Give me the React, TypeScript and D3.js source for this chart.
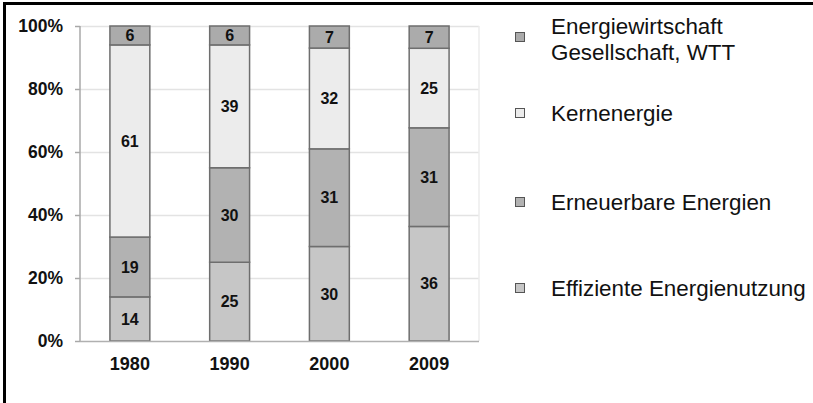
import React, { useEffect, useRef } from "react";
import * as d3 from "d3";

const years = ["1980", "1990", "2000", "2009"];
const effiziente = [14, 25, 30, 36];
const erneuerbare = [19, 30, 31, 31];
const kernenergie = [61, 39, 32, 25];
const energiewirtschaft = [6, 6, 7, 7];
const yTicks = [0, 0.2, 0.4, 0.6, 0.8, 1];

const seriesNames = [
  "Effiziente Energienutzung",
  "Erneuerbare Energien",
  "Kernenergie",
  "Energiewirtschaft Gesellschaft, WTT"
];
const seriesColors = ["#c6c6c6", "#b2b2b2", "#ececec", "#ababab"];

function App() {
  const chartRef = useRef<SVGSVGElement>(null);

  useEffect(() => {
    const width = 813;
    const height = 403;
    const left = 80;
    const right = 479;
    const top = 26;
    const bottom = 341;
    const font = "'Liberation Sans', Arial, sans-serif";

    const svg = d3.select(chartRef.current);
    svg.selectAll("*").remove();

    const values = [effiziente, erneuerbare, kernenergie, energiewirtschaft];
    const rows = years.map((year, i) => {
      const total = d3.sum(values, v => v[i]);
      const row: any = { year };
      values.forEach((v, k) => (row["s" + k] = v[i] / total));
      row.raw = values.map(v => v[i]);
      return row;
    });

    const keys = values.map((_, k) => "s" + k);
    const stack = d3.stack().keys(keys)(rows);

    const x = d3.scaleBand().domain(years).range([left, right]).paddingInner(0.6).paddingOuter(0.3);
    const y = d3.scaleLinear().domain([0, 1]).range([bottom, top]);

    svg.attr("width", width).attr("height", height);

    // frame lines on top and left
    svg.append("rect").attr("x", 0).attr("y", 0).attr("width", width).attr("height", height).attr("fill", "#fff");
    svg.append("line").attr("x1", 3).attr("x2", width).attr("y1", 3.5).attr("y2", 3.5)
      .attr("stroke", "#000").attr("stroke-width", 3);
    svg.append("line").attr("x1", 4.5).attr("x2", 4.5).attr("y1", 2).attr("y2", height)
      .attr("stroke", "#000").attr("stroke-width", 3);

    // gridlines
    svg.append("g")
      .selectAll("line")
      .data(yTicks.slice(1))
      .join("line")
      .attr("x1", left)
      .attr("x2", right)
      .attr("y1", d => Math.round(y(d)) + 0.5)
      .attr("y2", d => Math.round(y(d)) + 0.5)
      .attr("stroke", "#e3e3e3")
      .attr("stroke-width", 1.5);
    svg.append("line").attr("x1", right).attr("x2", right).attr("y1", top).attr("y2", bottom)
      .attr("stroke", "#ededed").attr("stroke-width", 1.5);

    // y axis
    const yAxis = svg.append("g");
    yAxis.append("line").attr("x1", left).attr("x2", left).attr("y1", top).attr("y2", bottom)
      .attr("stroke", "#a8a8a8").attr("stroke-width", 1.5);
    yAxis.selectAll("line.tick")
      .data(yTicks)
      .join("line")
      .attr("class", "tick")
      .attr("x1", left - 5)
      .attr("x2", left)
      .attr("y1", d => Math.round(y(d)) + 0.5)
      .attr("y2", d => Math.round(y(d)) + 0.5)
      .attr("stroke", "#a8a8a8")
      .attr("stroke-width", 1.5);
    yAxis.selectAll("text")
      .data(yTicks)
      .join("text")
      .attr("x", 63)
      .attr("y", d => y(d))
      .attr("dy", "0.35em")
      .attr("text-anchor", "end")
      .attr("font-family", font)
      .attr("font-weight", "bold")
      .attr("font-size", 17.5)
      .attr("fill", "#111")
      .text(d => d3.format(".0%")(d));

    // bars
    svg.append("g")
      .selectAll("g")
      .data(stack)
      .join("g")
      .attr("fill", (_, k) => seriesColors[k])
      .selectAll("rect")
      .data(d => d)
      .join("rect")
      .attr("x", d => x((d.data as any).year)!)
      .attr("width", x.bandwidth())
      .attr("y", d => y(d[1]))
      .attr("height", d => y(d[0]) - y(d[1]))
      .attr("stroke", "#6e6e6e")
      .attr("stroke-width", 1.5);

    // x axis baseline
    svg.append("line").attr("x1", left).attr("x2", right).attr("y1", bottom + 0.5).attr("y2", bottom + 0.5)
      .attr("stroke", "#b0b0b0").attr("stroke-width", 1.5);

    // value labels
    svg.append("g")
      .selectAll("g")
      .data(stack)
      .join("g")
      .selectAll("text")
      .data((s, k) => s.map(d => ({ d, k })))
      .join("text")
      .attr("x", ({ d }) => x((d.data as any).year)! + x.bandwidth() / 2)
      .attr("y", ({ d }) => (y(d[0]) + y(d[1])) / 2)
      .attr("dy", "0.36em")
      .attr("text-anchor", "middle")
      .attr("font-family", font)
      .attr("font-weight", "bold")
      .attr("font-size", 16)
      .attr("fill", "#111")
      .text(({ d, k }) => (d.data as any).raw[k]);

    // x labels
    svg.append("g")
      .selectAll("text")
      .data(years)
      .join("text")
      .attr("x", d => x(d)! + x.bandwidth() / 2)
      .attr("y", 370)
      .attr("text-anchor", "middle")
      .attr("font-family", font)
      .attr("font-weight", "bold")
      .attr("font-size", 18)
      .attr("fill", "#111")
      .text(d => d);

    // legend, top entry first
    const legendY = [37, 113, 202, 288];
    const legend = svg.append("g")
      .selectAll("g")
      .data(seriesNames.map((name, k) => ({ name, k })).reverse())
      .join("g")
      .attr("transform", (_, i) => `translate(515,${legendY[i]})`);
    legend.append("rect")
      .attr("x", 0.5)
      .attr("y", -4.5)
      .attr("width", 9)
      .attr("height", 9)
      .attr("fill", d => seriesColors[d.k])
      .attr("stroke", "#555")
      .attr("stroke-width", 1);
    legend.append("text")
      .attr("x", 36)
      .attr("font-family", font)
      .attr("font-size", 22.4)
      .attr("fill", "#111")
      .call(text =>
        text.each(function (d) {
          const lines = d.k === 3 ? ["Energiewirtschaft", "Gesellschaft, WTT"] : [d.name];
          d3.select(this)
            .selectAll("tspan")
            .data(lines)
            .join("tspan")
            .attr("x", 36)
            .attr("y", (_, j) => (lines.length > 1 ? -11 + j * 25.5 : 0))
            .attr("dy", "0.36em")
            .text(l => l);
        })
      );
  }, []);

  return <svg ref={chartRef} style={{ position: "absolute", left: 0, top: 0 }}></svg>;
}

export default App;
